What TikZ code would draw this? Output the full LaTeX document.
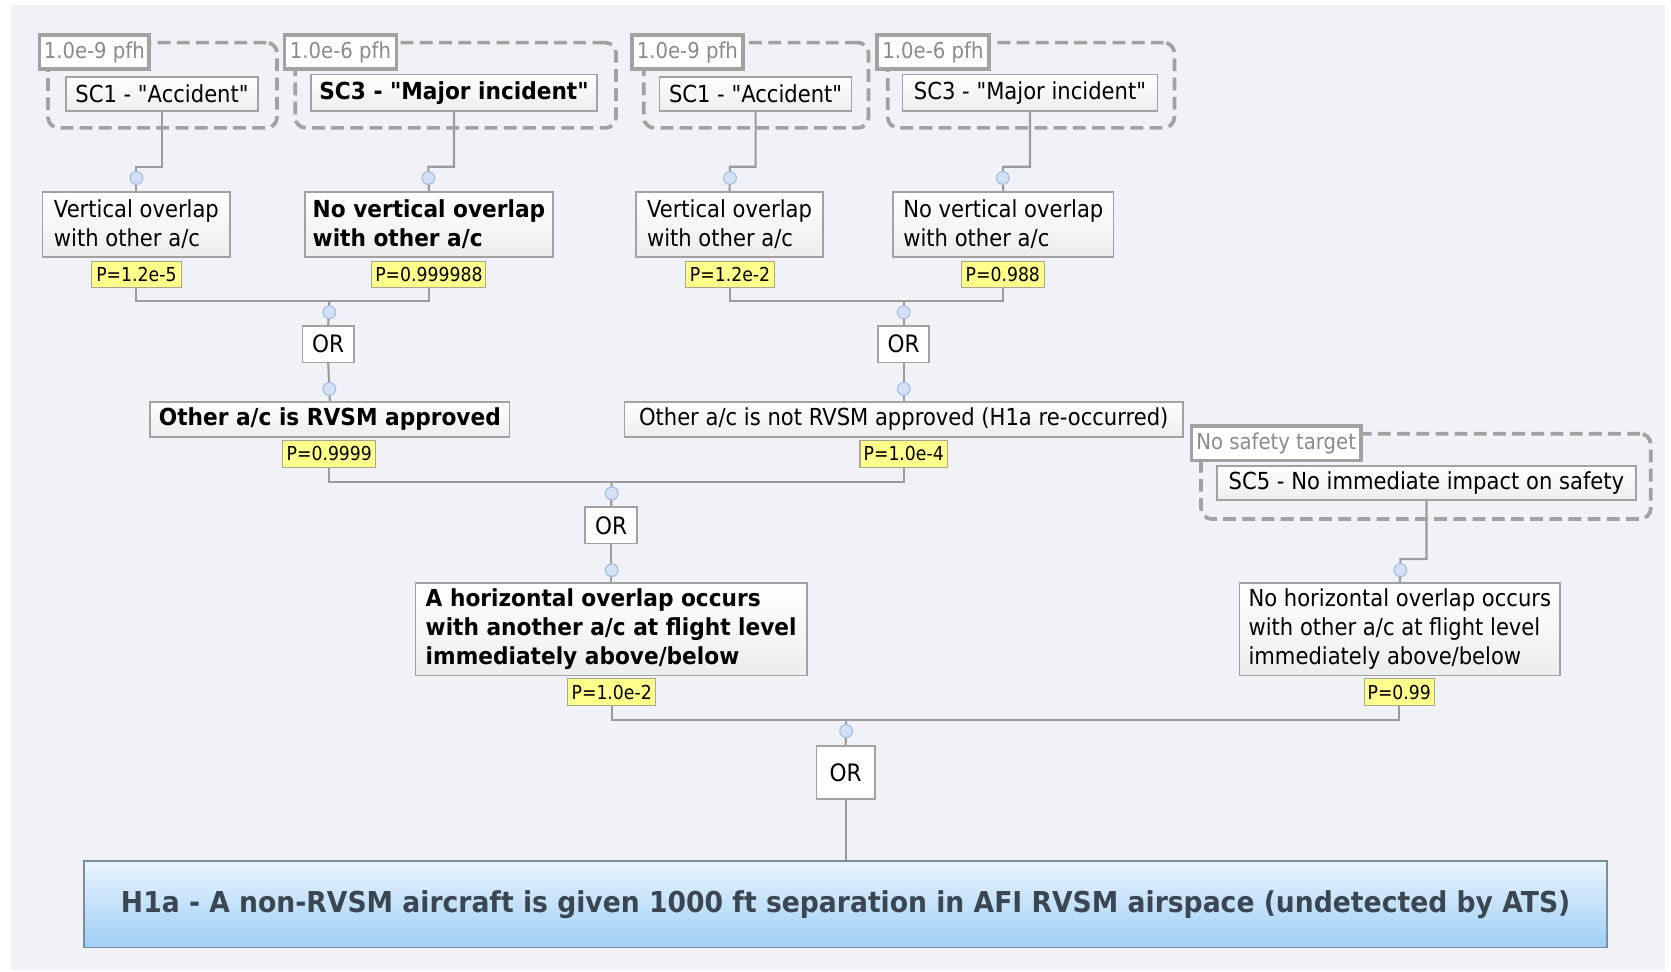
\documentclass[tikz,border=0pt]{standalone}
\usepackage{fontspec}
\setmainfont{DejaVu Sans}[Ligatures=TeXOff, FakeStretch=0.9, BoldFeatures={FakeStretch=0.925}]
\usetikzlibrary{calc}

\definecolor{bgc}{HTML}{F0F2F8}
\definecolor{edge}{HTML}{A2A2A2}
\definecolor{tagtxt}{HTML}{8A8A8A}
\definecolor{probfill}{HTML}{FFFF8C}
\definecolor{probedge}{HTML}{A8A890}
\definecolor{knobfill}{HTML}{D4E0F4}
\definecolor{knobedge}{HTML}{A4BCE4}
\definecolor{headtop}{HTML}{EAF4FD}
\definecolor{headbot}{HTML}{9FCFF6}
\definecolor{headedge}{HTML}{7F8C99}
\definecolor{headtxt}{HTML}{3B4653}
\definecolor{wirec}{HTML}{9C9C9C}

\pgfdeclarelayer{back}
\pgfdeclarelayer{wires}
\pgfsetlayers{back,wires,main}

\tikzset{
  grp/.style={draw=edge, line width=3.5pt, dash pattern=on 12pt off 6pt,
    rounded corners=10pt, inner sep=0pt},
  tag/.style={draw=edge, line width=3.5pt, fill=white, text=tagtxt,
    font=\fontsize{20.5}{24}\selectfont, inner sep=0pt},
  sc/.style={draw=edge, line width=1.5pt, top color=white, bottom color=black!7,
    font=\fontsize{22}{27}\selectfont, inner sep=0pt},
  ev/.style={draw=edge, line width=1.5pt, top color=white, bottom color=black!7,
    font=\fontsize{22}{27}\selectfont, align=left, inner sep=0pt},
  prob/.style={draw=probedge, line width=1pt, fill=probfill,
    font=\fontsize{18}{22}\selectfont, inner sep=0pt, minimum height=25pt},
  gate/.style={draw=edge, line width=1.5pt, fill=white,
    font=\fontsize{22.5}{27}\selectfont, inner sep=0pt},
  knob/.style={circle, draw=knobedge, line width=1pt, fill=knobfill,
    minimum size=12pt, inner sep=0pt},
  head/.style={draw=headedge, line width=1.5pt, top color=headtop, bottom color=headbot,
    text=headtxt, font=\bfseries\fontsize{27}{32}\selectfont, inner sep=0pt},
  wire/.style={draw=wirec, line width=2pt},
  heavy/.style={font=\bfseries\fontsize{22}{27}\selectfont},
}

\begin{document}
\begin{tikzpicture}[x=1pt,y=-1pt]
\useasboundingbox (0,0) rectangle (1568,912);
\begin{pgfonlayer}{back}
  \fill[white] (0,0) rectangle (1568,912);
  \fill[bgc] (10,5) rectangle (1562,910);
\end{pgfonlayer}

% ---- left branch: RVSM approved traffic
\node[grp, minimum width=215, minimum height=80] (g1) at (152.5,80) {};
\node[sc, minimum width=180, minimum height=32] (sc1a) at (152,88) {SC1 - "Accident"};
\node[tag, minimum width=103, minimum height=32] (t1) at (88.5,49) {1.0e-9 pfh};

\node[grp, minimum width=301, minimum height=80] (g2) at (427.5,80) {};
\node[sc, heavy, minimum width=268, minimum height=34] (sc3a) at (426,87) {SC3 - "Major incident"};
\node[tag, minimum width=105, minimum height=32] (t2) at (319.5,49) {1.0e-6 pfh};

\node[knob] (k1) at (128,167) {};
\node[knob] (k2) at (402,167) {};
\node[ev, minimum width=176, minimum height=61] (v1) at (128,210.5) {Vertical overlap\\with other a/c};
\node[ev, heavy, minimum width=233, minimum height=61] (nv1) at (402.5,210.5) {No vertical overlap\\with other a/c};
\node[prob, minimum width=85] (p1) at (128,257.5) {P=1.2e-5};
\node[prob, minimum width=107] (p2) at (402.5,257.5) {P=0.999988};

\node[knob] (k3) at (309,293) {};
\node[gate, minimum width=48, minimum height=34] (or1) at (308,323) {OR};
\node[knob] (k4) at (309,365) {};
\node[sc, heavy, minimum width=337, minimum height=33] (rv) at (309.5,393.5) {Other a/c is RVSM approved};
\node[prob, minimum width=87] (p3) at (309,426) {P=0.9999};

% ---- middle branch: non-RVSM traffic
\node[grp, minimum width=211, minimum height=80] (g3) at (709.5,80) {};
\node[sc, minimum width=180, minimum height=32] (sc1b) at (709,88) {SC1 - "Accident"};
\node[tag, minimum width=104, minimum height=32] (t3) at (645,49) {1.0e-9 pfh};

\node[grp, minimum width=269, minimum height=80] (g4) at (967.5,80) {};
\node[sc, minimum width=239, minimum height=34] (sc3b) at (966.5,87) {SC3 - "Major incident"};
\node[tag, minimum width=105, minimum height=32] (t4) at (875.5,49) {1.0e-6 pfh};

\node[knob] (k5) at (685,167) {};
\node[knob] (k6) at (941,167) {};
\node[ev, minimum width=175, minimum height=61] (v2) at (684.5,210.5) {Vertical overlap\\with other a/c};
\node[ev, minimum width=207, minimum height=61] (nv2) at (941.5,210.5) {No vertical overlap\\with other a/c};
\node[prob, minimum width=84] (p4) at (685,257.5) {P=1.2e-2};
\node[prob, minimum width=78] (p5) at (941,257.5) {P=0.988};

\node[knob] (k7) at (848,293) {};
\node[gate, minimum width=48, minimum height=34] (or2) at (848,323) {OR};
\node[knob] (k8) at (848,365) {};
\node[sc, minimum width=524, minimum height=33] (nr) at (848,393.5) {Other a/c is not RVSM approved (H1a re-occurred)};
\node[prob, minimum width=82] (p6) at (848,426) {P=1.0e-4};

% ---- horizontal overlap
\node[knob] (k9) at (574,463) {};
\node[gate, minimum width=49, minimum height=34] (or3) at (573.5,493) {OR};
\node[knob] (k10) at (574,535) {};
\node[ev, heavy, minimum width=367, minimum height=87] (ho) at (573.5,590.5) {A horizontal overlap occurs\\with another a/c at flight level\\immediately above/below};
\node[prob, minimum width=83] (p7) at (574,649.5) {P=1.0e-2};

% ---- no horizontal overlap
\node[grp, minimum width=422, minimum height=80] (g5) at (1338,447) {};
\node[sc, minimum width=393, minimum height=32] (sc5) at (1338.5,453) {SC5 - No immediate impact on safety};
\node[tag, minimum width=159, minimum height=32] (t5) at (1197.5,416) {No safety target};

\node[knob] (k11) at (1314,535) {};
\node[ev, minimum width=301, minimum height=87] (nh) at (1313.5,590.5) {No horizontal overlap occurs\\with other a/c at flight level\\immediately above/below};
\node[prob, minimum width=66] (p8) at (1313,649.5) {P=0.99};

% ---- top event
\node[knob] (k12) at (794,686) {};
\node[gate, minimum width=55, minimum height=50] (or4) at (793.5,725) {OR};
\node[head, minimum width=1429, minimum height=81] (h1a) at (793.5,848.5) {H1a - A non-RVSM aircraft is given 1000 ft separation in AFI RVSM airspace (undetected by ATS)};

% ---- connectors
\begin{pgfonlayer}{wires}
  \draw[wire] (sc1a.south) |- ([yshift=4pt]k1.north) -- (k1.center) -- (v1.north);
  \draw[wire] (sc3a.south) |- ([yshift=4pt]k2.north) -- (k2.center) -- (nv1.north);
  \draw[wire] (p1.south) |- ([yshift=4pt]k3.north) -| (p2.south);
  \draw[wire] ([yshift=4pt]k3.north) -- (or1.north);
  \draw[wire] (or1.south) -- (rv.north);

  \draw[wire] (sc1b.south) |- ([yshift=4pt]k5.north) -- (k5.center) -- (v2.north);
  \draw[wire] (sc3b.south) |- ([yshift=4pt]k6.north) -- (k6.center) -- (nv2.north);
  \draw[wire] (p4.south) |- ([yshift=4pt]k7.north) -| (p5.south);
  \draw[wire] ([yshift=4pt]k7.north) -- (or2.north);
  \draw[wire] (or2.south) -- (nr.north);

  \draw[wire] (p3.south) |- ([yshift=4pt]k9.north) -| (p6.south);
  \draw[wire] ([yshift=4pt]k9.north) -- (or3.north);
  \draw[wire] (or3.south) -- (ho.north);

  \draw[wire] (sc5.south) |- ([yshift=4pt]k11.north) -- (k11.center) -- (nh.north);

  \draw[wire] (p7.south) |- ([yshift=4pt]k12.north) -| (p8.south);
  \draw[wire] ([yshift=4pt]k12.north) -- (or4.north);
  \draw[wire] (or4.south) -- (h1a.north);
\end{pgfonlayer}
\end{tikzpicture}
\end{document}
